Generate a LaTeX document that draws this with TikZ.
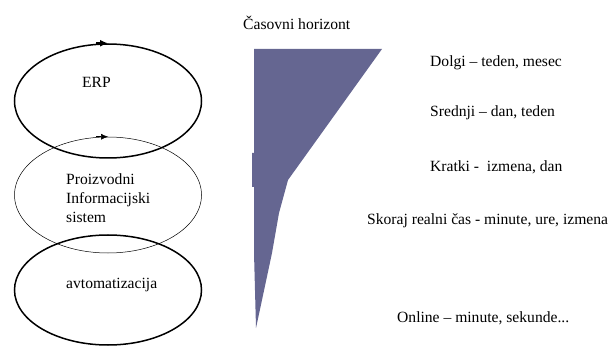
\documentclass[tikz,border=0pt]{standalone}
\usepackage{fontspec}
\setmainfont{Liberation Serif}
\newfontfamily\labelfont[Ligatures=TeX]{Liberation Serif}
\usepackage{xcolor}
\usetikzlibrary{shapes.geometric,arrows.meta}
\definecolor{horizont}{RGB}{101,102,145}

\begin{document}
\begin{tikzpicture}[x=1pt,y=-1pt,font=\labelfont\fontsize{15.6}{19}\selectfont]

\useasboundingbox (0,0) rectangle (615,347);

% Levels (ellipses)
\node[ellipse, draw=black, line width=1.5pt, minimum width=187, minimum height=114] (ERP) at (108,101) {};
\node[ellipse, draw=black, line width=0.5pt, minimum width=187, minimum height=116] (PIS) at (108,195) {};
\node[ellipse, draw=black, line width=1.5pt, minimum width=187, minimum height=110] (AVT) at (108,290) {};

% Direction marks
\draw[line width=1.5pt, -{Latex[length=8pt,width=7pt]}] ([xshift=-12pt]ERP.north) -- ([xshift=0pt]ERP.north);
\draw[line width=0.5pt, -{Latex[length=7pt,width=6pt]}] ([xshift=-12pt]PIS.north) -- ([xshift=0pt]PIS.north);

% Labels
\node[anchor=base west, inner sep=0pt] (lERP) at (82,88) {ERP};
\node[anchor=base west, align=left, inner sep=0pt] (lPIS) at (66,223) {Proizvodni\\Informacijski\\sistem};
\node[anchor=base west, inner sep=0pt] (lAVT) at (66,288) {avtomatizacija};

% Time horizon
\node[anchor=base west, inner sep=0pt] (hor) at (243,30) {Časovni horizont};
\fill[horizont] (254,49) -- (382,49) -- (288,180) -- (279,213) -- (272,253) -- (262,300)
  -- (256,328) -- (254,253) -- (254,187) -- (252,187) -- (252,153) -- (254,153) -- cycle;

% Horizons
\foreach \y/\txt in {67/{Dolgi -- teden, mesec}, 117/{Srednji -- dan, teden}, 172/{Kratki -\ \ izmena, dan}}
\node[anchor=base west, inner sep=0pt] (h\y) at (430,\y) {\txt};
\node[anchor=base west, inner sep=0pt] (h225) at (367,225) {Skoraj realni čas - minute, ure, izmena};
\node[anchor=base west, inner sep=0pt] (h322) at (397,322) {Online -- minute, sekunde...};

\end{tikzpicture}
\end{document}
